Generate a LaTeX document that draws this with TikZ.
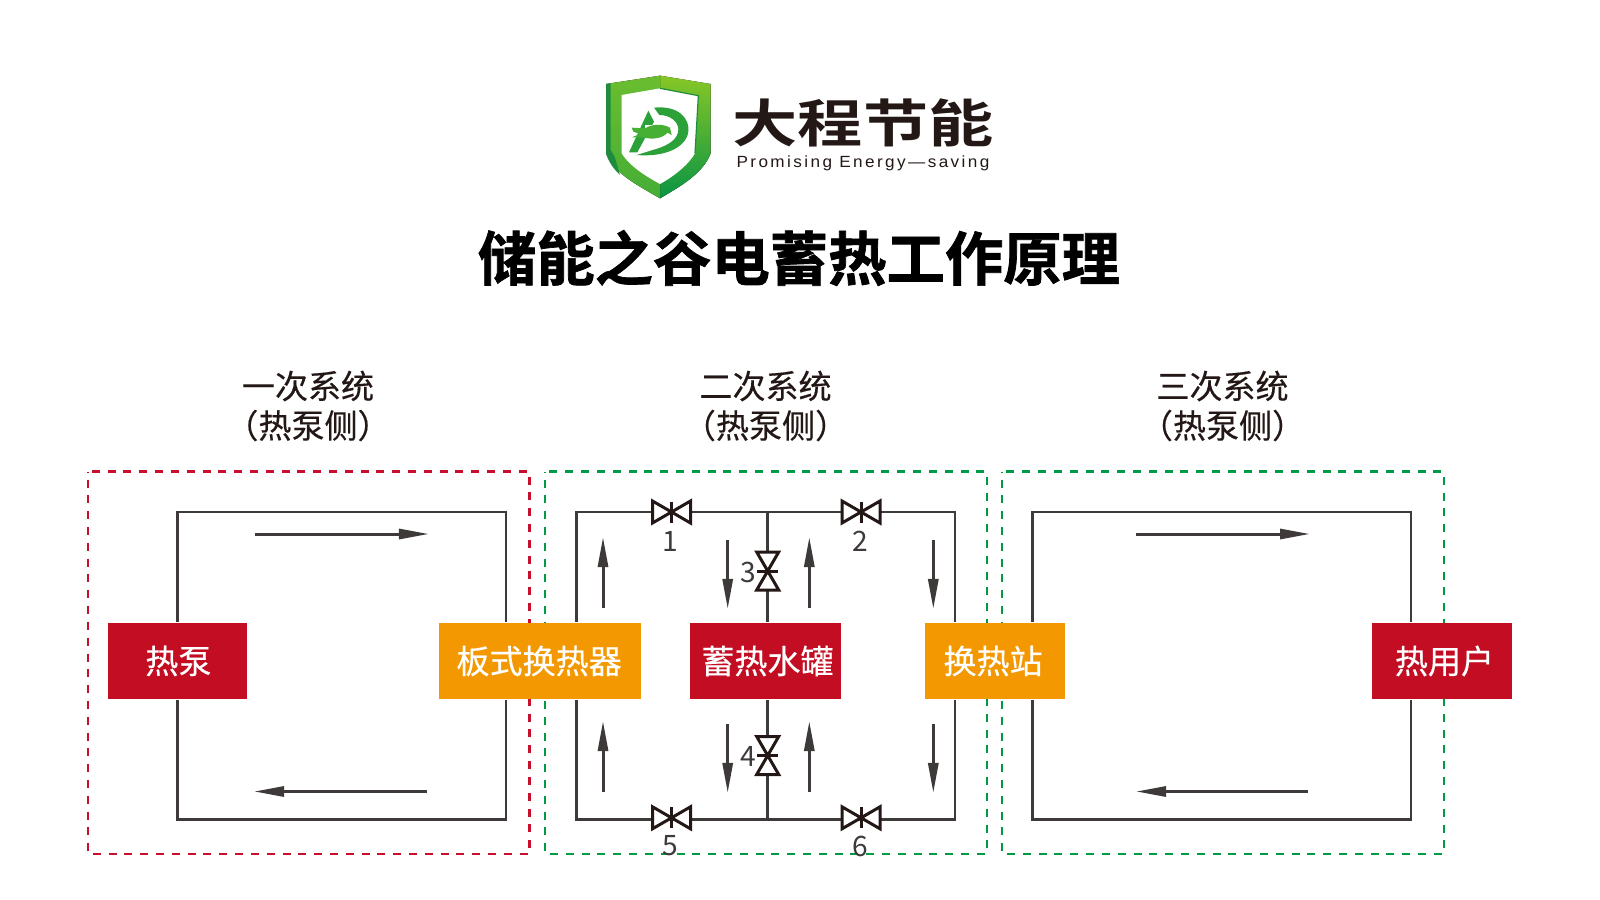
\documentclass[tikz,border=0pt]{standalone}
\usepackage{fontspec}
\setmainfont{Noto Sans CJK SC}
\newfontfamily\cjkbold[FakeBold=1.2]{Noto Sans CJK SC Bold}
\newfontfamily\cjkmed[FakeBold=0.35]{Noto Sans CJK SC}
\newfontfamily\cjklogo[FakeStretch=1.27]{Noto Sans CJK SC Bold}
\newfontfamily\latinlogo[LetterSpace=15,FakeStretch=1.06]{Liberation Sans}
\usetikzlibrary{arrows.meta,calc}
\definecolor{pipegray}{HTML}{3E3A39}
\definecolor{boxred}{HTML}{C30D23}
\definecolor{boxorange}{HTML}{F39800}
\definecolor{dashred}{HTML}{C8102E}
\definecolor{dashgreen}{HTML}{009944}
\definecolor{inkdark}{HTML}{231815}
\definecolor{shieldtop}{HTML}{86C726}
\definecolor{shieldlefttop}{HTML}{6ABD2F}
\definecolor{shieldleftbot}{HTML}{45AE36}
\definecolor{shieldbot}{HTML}{0B9444}
\definecolor{shieldrim}{HTML}{1E8C3C}
\definecolor{emblem}{HTML}{2CA13A}
\definecolor{emblemlight}{HTML}{46B035}
\newcommand{\boxtext}[3]{\kern#1\raisebox{-0.4pt}{\cjkmed #3}\kern#2}
\tikzset{
  zone/.style={line width=0.25mm,dash pattern=on 0.8mm off 0.78mm,dash phase=0.78mm},
  block/.style={anchor=center,minimum height=7.66mm,inner sep=0pt,text=white,font=\fontsize{9.4}{11}\selectfont},
  pipe/.style={draw=pipegray,line width=0.27mm,line join=miter},
  flow/.style={draw=pipegray,line width=0.3mm,-{Triangle[length=3mm,width=1mm]}},
  num/.style={text=pipegray,inner sep=0pt,font=\fontsize{8}{9}\selectfont},
  syshead/.style={text=inkdark,inner sep=0pt,font=\fontsize{9.4}{11}\selectfont\cjkmed},
  valve/.pic={
    \draw[line width=0.3mm,draw=inkdark,fill=white,line join=miter] (-19,-11)--(19,11)--(19,-11)--(-19,11)--cycle;
    \draw[line width=0.3mm,draw=inkdark] (0,-10.5)--(0,10.5);
  }
}
\begin{document}
\begin{tikzpicture}[x=0.01cm,y=-0.01cm]
\useasboundingbox (0,0) rectangle (1600,900);
% logo
\begin{scope}[shift={(580,60)},xscale=1/3,yscale=1/3]
  \fill[top color=shieldtop,bottom color=shieldbot] (240,47)--(392,72)--(392,280) .. controls (370,340) and (300,380) .. (240,415)--cycle;
  \fill[top color=shieldlefttop,bottom color=shieldleftbot] (240,47)--(78,72)--(78,280) .. controls (100,340) and (180,380) .. (240,415)--cycle;
  \fill[shieldrim] (92,70)--(78,72)--(78,280) .. controls (88,310) and (100,325) .. (120,345) -- (104,290)--(92,270)--cycle;
  \fill[white] (240,85)--(125,105)--(125,280) .. controls (150,320) and (200,350) .. (240,372) .. controls (280,350) and (325,315) .. (345,280)--(355,107)--cycle;
  \draw[shieldrim,line width=0.12mm] (240,85)--(355,107)--(345,280);
  \fill[emblem] (222,143) .. controls (300,135) and (330,180) .. (325,215) .. controls (318,265) and (250,292) .. (170,285) -- (225,268) .. controls (270,255) and (295,235) .. (295,208) .. controls (295,185) and (270,165) .. (238,165) -- cycle;
  \fill[emblem] (205,152)--(222,185)--(172,277)--(147,277)--cycle;
  \fill[white] (195,196)--(280,196)--(280,240)--(195,240)--cycle;
  \fill[emblemlight] (155,203)--(195,205) .. controls (220,190) and (250,192) .. (270,203)--(275,225)--(262,218) .. controls (250,235) and (215,240) .. (190,232)--(155,232)--(180,222)--(160,215)--cycle;
\end{scope}
\node[inner sep=0pt,text=inkdark] (logotext) at (863,123) {\cjklogo\fontsize{14.6}{17}\selectfont 大程节能};
\node[inner sep=0pt,text=inkdark] (logosub) at (863,163) {\latinlogo\fontsize{4.6}{5}\selectfont Promising Energy—saving};
\node[inner sep=0pt,text=black] (title) at (799,258) {\cjkbold\fontsize{16.6}{19}\selectfont 储能之谷电蓄热工作原理};
% headings
\node[syshead] (h1a) at (308,386) {一次系统};
\node[syshead] (h1b) at (308,425.5) {（热泵侧）};
\node[syshead] (h2a) at (765.5,386) {二次系统};
\node[syshead] (h2b) at (765.5,425.5) {（热泵侧）};
\node[syshead] (h3a) at (1222.5,386) {三次系统};
\node[syshead] (h3b) at (1222.5,425.5) {（热泵侧）};
% zones
\draw[zone,dashred] (87.8,471.6) rectangle (529.6,854);
\draw[zone,dashgreen] (545,471.6) rectangle (987,854);
\draw[zone,dashgreen] (1002,471.6) rectangle (1444,854);
% blocks
\node[block,fill=boxred,minimum width=13.9mm] (hp) at (177.5,661) {\boxtext{0.5pt}{0pt}{热泵}};
\node[block,fill=boxorange,minimum width=20.2mm] (phe) at (540,661) {\boxtext{0pt}{0.5pt}{板式换热器}};
\node[block,fill=boxred,minimum width=15.04mm] (tank) at (765.5,661) {\boxtext{1.1pt}{0pt}{蓄热水罐}};
\node[block,fill=boxorange,minimum width=13.9mm] (stn) at (995,661) {\boxtext{0pt}{1.1pt}{换热站}};
\node[block,fill=boxred,minimum width=13.9mm] (usr) at (1442,661) {\boxtext{1.4pt}{0pt}{热用户}};
% corner coordinates
\coordinate (t1) at (506,512);
\coordinate (b1) at (506,819.5);
\coordinate (l2) at (576.5,512);
\coordinate (r2) at (955,512);
\coordinate (v1) at (671.5,512);
\coordinate (v2) at (861,512);
\coordinate (v5) at (671.5,817.8);
\coordinate (v6) at (861,817.8);
\coordinate (v3) at (767.7,571);
\coordinate (v4) at (767.7,755.5);
\coordinate (j3) at (767.7,512);
\coordinate (j4) at (767.7,819.5);
\coordinate (l2b) at (576.5,819.5);
\coordinate (r2b) at (955,819.5);
\coordinate (l3) at (1032.6,512);
\coordinate (r3) at (1411,512);
\coordinate (l3b) at (1032.6,819.5);
\coordinate (r3b) at (1411,819.5);
% loop 1
\draw[pipe] (hp.north) |- (t1) -- (phe.north -| t1);
\draw[pipe] (hp.south) |- (b1) -- (phe.south -| b1);
% loop 2
\draw[pipe] (phe.north -| l2) -- (l2) -- (r2) -- (stn.north -| r2);
\draw[pipe] (phe.south -| l2) -- (l2b) -- (r2b) -- (stn.south -| r2);
\draw[pipe] (tank.north -| j3) -- (j3);
\draw[pipe] (tank.south -| j4) -- (j4);
% loop 3
\draw[pipe] (stn.north -| l3) -- (l3) -- (r3) -- (usr.north -| r3);
\draw[pipe] (stn.south -| l3) -- (l3b) -- (r3b) -- (usr.south -| r3);
% valves
\pic at (v1) {valve};
\pic at (v2) {valve};
\pic at (v5) {valve};
\pic at (v6) {valve};
\pic[rotate=90] at (v3) {valve};
\pic[rotate=90] at (v4) {valve};
\node[num] (n1) at (670.5,541) {1};
\node[num] (n2) at (860.5,541) {2};
\node[num] (n3) at (748.5,572) {3};
\node[num] (n4) at (748.5,756) {4};
\node[num] (n5) at (670.5,846) {5};
\node[num] (n6) at (860.5,846) {6};
% flow arrows
\foreach \i/\ax/\ay/\bx/\by in {a/255/534/429/534,b/427/791.5/254/791.5,c/1136/534/1310/534,d/1308/791.5/1136/791.5,
  e/603/608/603/537,f/727.7/540/727.7/609,g/809.3/608/809.3/537,h/933.3/540/933.3/609,
  i/603/792/603/721,j/727.7/724/727.7/793,k/809.3/792/809.3/721,l/933.3/724/933.3/793}{
  \coordinate (s\i) at (\ax,\ay);
  \coordinate (e\i) at (\bx,\by);
  \draw[flow] (s\i) -- (e\i);
}
\end{tikzpicture}
\end{document}
